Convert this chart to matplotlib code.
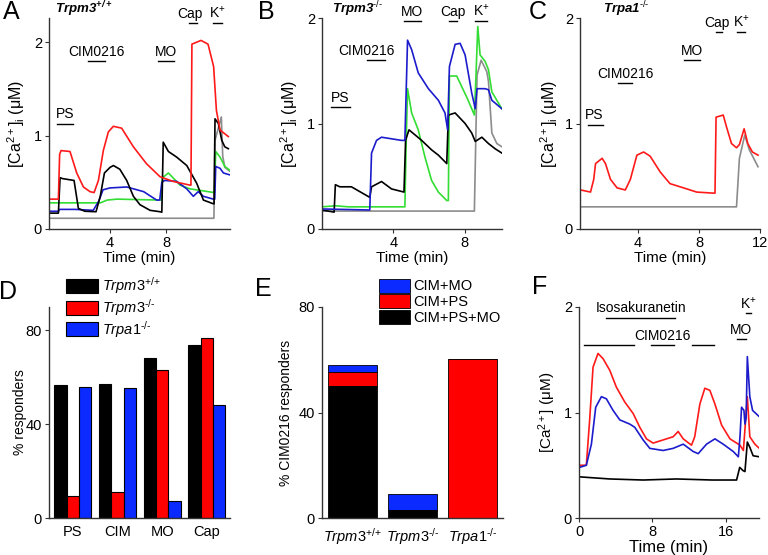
import matplotlib
matplotlib.use('Agg')
import matplotlib.pyplot as plt

plt.rcParams.update({
    'font.family': ['Liberation Sans', 'DejaVu Sans'],
    'font.size': 10,
    'mathtext.fontset': 'custom',
    'mathtext.rm': 'Liberation Sans',
    'mathtext.it': 'Liberation Sans:italic',
    'mathtext.bf': 'Liberation Sans:bold',
    'mathtext.bfit': 'Liberation Sans:bold:italic',
    'axes.linewidth': 1.0,
    'axes.edgecolor': '#333333',
    'xtick.major.size': 3,
    'ytick.major.size': 3,
    'xtick.color': '#333333',
    'ytick.color': '#333333',
    'xtick.labelcolor': 'black',
    'ytick.labelcolor': 'black',
    'xtick.labelsize': 10.5,
    'ytick.labelsize': 10.5,
})

RED = '#ff1a1a'
BLUE = '#1c1ccc'
GREEN = '#33dd33'
GRAY = '#8c8c8c'
BAR_BLUE = '#0a2aff'

# ---- Panel A traces (Trpm3+/+) ----
A_red_t = [-0.36, 0.31, 0.4, 0.5, 1.14, 1.62, 2.1, 2.57, 2.86, 3.17, 3.52, 3.88, 4.24, 4.83, 5.67, 6.6, 7.57, 8.5, 9.7, 9.78, 9.85, 10.5, 11.0, 11.4, 11.6, 11.86, 12.45]
A_red_v = [0.32, 0.32, 0.80, 0.84, 0.83, 0.60, 0.45, 0.40, 0.39, 0.52, 0.84, 1.04, 1.10, 1.08, 0.88, 0.70, 0.56, 0.51, 0.47, 0.47, 1.98, 2.02, 1.98, 1.74, 1.27, 1.06, 0.99]
A_black_t = [-0.36, 0.31, 0.43, 0.6, 1.43, 1.74, 2.2, 3.0, 3.3, 3.6, 4.0, 4.24, 4.7, 5.19, 5.67, 6.14, 6.86, 7.57, 7.7, 7.8, 8.17, 8.76, 9.48, 10.19, 10.67, 11.38, 11.43, 11.5, 11.74, 11.98, 12.2, 12.45]
A_black_v = [0.17, 0.17, 0.55, 0.54, 0.52, 0.22, 0.19, 0.185, 0.35, 0.60, 0.66, 0.68, 0.64, 0.52, 0.35, 0.26, 0.20, 0.185, 0.18, 0.93, 0.83, 0.77, 0.68, 0.49, 0.31, 0.27, 0.27, 1.18, 1.13, 0.95, 0.88, 0.86]
A_green_t = [-0.36, 3.3, 3.8, 4.5, 7.5, 7.65, 7.75, 8.17, 9.0, 9.71, 11.45, 11.55, 11.86, 12.2, 12.55]
A_green_v = [0.28, 0.28, 0.31, 0.32, 0.31, 0.31, 0.55, 0.60, 0.47, 0.43, 0.39, 0.83, 0.77, 0.67, 0.63]
A_blue_t = [-0.36, 0.31, 0.4, 1.5, 2.8, 3.2, 3.5, 4.0, 5.2, 6.4, 7.33, 7.55, 7.7, 7.9, 8.76, 9.48, 9.95, 10.3, 10.67, 11.38, 11.48, 11.55, 11.86, 12.1, 12.55]
A_blue_v = [0.19, 0.19, 0.21, 0.21, 0.20, 0.30, 0.42, 0.44, 0.45, 0.40, 0.31, 0.31, 0.50, 0.52, 0.51, 0.43, 0.35, 0.40, 0.35, 0.32, 0.32, 0.67, 0.65, 0.60, 0.58]
A_gray_t = [-0.36, 11.42, 11.5, 11.95, 12.05, 12.2, 12.55]
A_gray_v = [0.115, 0.115, 0.95, 1.20, 0.78, 0.66, 0.62]

# ---- Panel B traces (Trpm3-/-) ----
B_black_t = [0, 0.68, 0.75, 1.0, 1.65, 2.68, 2.78, 3.34, 3.9, 4.6, 4.69, 4.88, 5.59, 6.15, 6.53, 7.0, 7.09, 7.47, 8.03, 8.4, 8.6, 8.97, 9.34, 9.72, 10.09]
B_black_v = [0.18, 0.16, 0.42, 0.40, 0.40, 0.30, 0.40, 0.45, 0.38, 0.35, 0.84, 0.94, 0.84, 0.75, 0.70, 0.62, 1.08, 1.10, 1.00, 0.91, 0.83, 0.87, 0.81, 0.76, 0.72]
B_blue_t = [0, 2.68, 2.78, 3.06, 3.34, 4.46, 4.65, 4.8, 5.03, 5.4, 5.97, 6.53, 6.9, 7.05, 7.15, 7.47, 7.75, 8.03, 8.4, 8.6, 8.7, 9.15, 9.34, 9.53, 10.09]
B_blue_v = [0.19, 0.18, 0.72, 0.84, 0.87, 0.84, 0.84, 1.79, 1.70, 1.48, 1.33, 1.22, 1.10, 0.94, 1.54, 1.75, 1.76, 1.65, 1.29, 1.14, 1.33, 1.33, 1.32, 1.22, 1.14]
B_green_t = [0, 0.75, 1.5, 4.65, 4.72, 4.8, 5.03, 5.4, 5.78, 6.15, 6.53, 7.0, 7.09, 7.15, 7.56, 7.84, 8.2, 8.55, 8.65, 8.74, 8.87, 9.15, 9.34, 9.53, 10.09]
B_green_v = [0.21, 0.22, 0.21, 0.21, 0.80, 1.33, 1.10, 0.94, 0.68, 0.46, 0.35, 0.27, 0.27, 1.45, 1.45, 1.35, 1.22, 1.08, 1.50, 1.92, 1.65, 1.59, 1.51, 1.30, 1.14]
B_gray_t = [0, 8.55, 8.7, 8.93, 9.25, 9.34, 9.53, 9.81, 10.09]
B_gray_v = [0.17, 0.17, 1.46, 1.60, 1.49, 1.40, 0.91, 0.81, 0.78]

# ---- Panel C traces (Trpa1-/-) ----
C_red_t = [0.24, 0.89, 1.1, 1.22, 1.65, 1.87, 2.2, 2.63, 3.17, 3.5, 3.93, 4.37, 4.8, 5.46, 6.1, 6.98, 7.85, 8.93, 9.05, 9.12, 9.59, 9.8, 10.13, 10.46, 10.65, 10.96, 11.2, 11.5, 11.87]
C_red_v = [0.37, 0.35, 0.47, 0.62, 0.67, 0.62, 0.47, 0.39, 0.37, 0.47, 0.70, 0.73, 0.69, 0.54, 0.43, 0.39, 0.35, 0.34, 0.34, 1.06, 1.08, 0.97, 0.81, 0.77, 0.80, 0.95, 0.81, 0.73, 0.70]
C_gray_t = [0.24, 10.46, 10.65, 11.0, 11.3, 11.87]
C_gray_v = [0.21, 0.21, 0.67, 0.89, 0.75, 0.59]

# ---- Panel D: % responders ----
D_groups = ['PS', 'CIM', 'MO', 'Cap']
D_wt = [56.9, 57.0, 68.3, 73.6]
D_m3ko = [9.4, 11.3, 63.3, 76.7]
D_a1ko = [55.7, 55.3, 7.1, 48.0]

# ---- Panel E: % CIM0216 responders ----
E_genotypes = [r'$\mathit{Trpm3}^{\text{+/+}}$', r'$\mathit{Trpm3}^{\text{-/-}}$', r'$\mathit{Trpa1}^{\text{-/-}}$']
E_cim_ps_mo = [50.0, 3.0, 0.0]
E_cim_ps = [5.5, 0.0, 60.3]
E_cim_mo = [2.5, 6.0, 0.0]

# ---- Panel F traces ----
F_red_t = [0.07, 0.8, 1.16, 1.53, 2.07, 2.62, 3.35, 4.07, 4.98, 5.9, 6.62, 7.35, 8.07, 9.16, 10.25, 10.8, 11.35, 12.25, 12.6, 13.16, 13.7, 14.25, 14.8, 15.53, 16.44, 17.53, 17.9, 18.33, 18.6, 19.15, 19.64]
F_red_v = [0.50, 0.50, 0.93, 1.43, 1.56, 1.51, 1.40, 1.24, 1.10, 0.99, 0.86, 0.75, 0.71, 0.74, 0.77, 0.82, 0.75, 0.69, 0.77, 1.08, 1.23, 1.21, 1.08, 0.88, 0.75, 0.69, 0.64, 1.15, 0.77, 0.70, 0.66]
F_blue_t = [0.07, 0.8, 1.35, 1.82, 2.44, 2.98, 3.71, 4.44, 5.53, 6.07, 6.98, 7.71, 9.16, 10.25, 11.35, 12.44, 12.98, 13.89, 14.8, 15.7, 16.8, 17.35, 17.53, 17.7, 17.96, 18.07, 18.2, 18.33, 18.6, 18.9, 19.64]
F_blue_v = [0.48, 0.50, 0.70, 1.05, 1.15, 1.13, 1.02, 0.93, 0.89, 0.86, 0.74, 0.66, 0.64, 0.66, 0.70, 0.63, 0.61, 0.70, 0.75, 0.70, 0.63, 0.58, 0.77, 1.05, 1.02, 0.89, 0.95, 1.53, 1.15, 1.02, 0.96]
F_black_t = [0.07, 3.35, 6.98, 10.6, 14.5, 17.16, 17.5, 17.85, 18.07, 18.33, 18.6, 18.96, 19.64]
F_black_v = [0.39, 0.37, 0.36, 0.37, 0.36, 0.36, 0.48, 0.45, 0.44, 0.72, 0.67, 0.59, 0.58]

# application bars: (label, start, end, y, label x)
A_apps = [('PS', 0.2, 1.36, 1.13, 0.78), ('CIM0216', 2.45, 3.64, 1.80, 3.05), ('MO', 7.45, 8.57, 1.80, 8.0),
          ('Cap', 9.67, 10.24, 2.21, 9.72), (r'K$^{+}$', 11.38, 11.98, 2.21, 11.7)]
B_apps = [('PS', 0.53, 1.56, 1.16, 1.0), ('CIM0216', 2.53, 3.56, 1.60, 2.5), ('MO', 4.6, 5.53, 1.97, 5.03),
          ('Cap', 7.1, 7.56, 1.97, 7.34), (r'K$^{+}$', 8.6, 9.25, 1.97, 8.93)]
C_apps = [('PS', 0.72, 1.72, 0.99, 1.15), ('CIM0216', 2.67, 3.6, 1.38, 3.17), ('MO', 7.02, 8.07, 1.60, 7.52),
          ('Cap', 9.09, 9.52, 1.87, 9.2), (r'K$^{+}$', 10.46, 11.0, 1.87, 10.78)]
F_apps = [('Isosakuranetin', 2.98, 10.44, 1.90, 6.73), ('', 0.51, 5.96, 1.64, 3.2), ('CIM0216', 7.89, 10.36, 1.64, 9.09),
          ('', 12.25, 14.69, 1.64, 13.5), ('MO', 17.16, 18.15, 1.70, 17.65), (r'K$^{+}$', 18.18, 18.7, 1.94, 18.44)]

fig = plt.figure(figsize=(7.68, 5.55), dpi=100)


def add_ax(x0, y0, x1, y1):
    return fig.add_axes([x0 / 768, 1 - y1 / 555, (x1 - x0) / 768, (y1 - y0) / 555])


def style(ax):
    for s in ['top', 'right']:
        ax.spines[s].set_visible(False)
    ax.tick_params(direction='out', pad=2)


def draw_apps(ax, apps):
    for label, x0, x1, y, tx in apps:
        ax.plot([x0, x1], [y, y], color='black', lw=1.0, clip_on=False)
        if label:
            ax.annotate(label, (tx, y), xytext=(0, 1.5), textcoords='offset points',
                        ha='center', va='bottom', fontsize=10, annotation_clip=False)


ca_label = r'[Ca$^{2+}$]$_\mathrm{i}$ ($\mathrm{\mu}$M)'

# Panel A
axA = add_ax(49, 18, 230, 229)
style(axA)
axA.plot(A_gray_t, A_gray_v, color=GRAY, lw=1.2)
axA.plot(A_green_t, A_green_v, color=GREEN, lw=1.2)
axA.plot(A_blue_t, A_blue_v, color=BLUE, lw=1.2)
axA.plot(A_black_t, A_black_v, color='black', lw=1.2)
axA.plot(A_red_t, A_red_v, color=RED, lw=1.2)
axA.set_xlim(-0.36, 12.57)
axA.set_ylim(0, 2.26)
axA.set_xticks([4, 8])
axA.set_yticks([0, 1, 2])
axA.set_xlabel('Time (min)', labelpad=1, fontsize=11)
axA.set_ylabel(ca_label, fontsize=11.5)
axA.yaxis.set_label_coords(-0.12, 0.5)
draw_apps(axA, A_apps)
axA.text(0.035, 1.04, r'$\mathbfit{Trpm3}^{\mathbfit{+/+}}$', transform=axA.transAxes, ha='left', va='center', fontsize=9.5)

# Panel B
axB = add_ax(322, 18, 502, 229)
style(axB)
axB.plot(B_gray_t, B_gray_v, color=GRAY, lw=1.2)
axB.plot(B_green_t, B_green_v, color=GREEN, lw=1.2)
axB.plot(B_black_t, B_black_v, color='black', lw=1.2)
axB.plot(B_blue_t, B_blue_v, color=BLUE, lw=1.2)
axB.set_xlim(0, 10.1)
axB.set_ylim(0, 2)
axB.set_xticks([4, 8])
axB.set_yticks([0, 1, 2])
axB.set_xlabel('Time (min)', labelpad=1, fontsize=11)
axB.set_ylabel(ca_label, fontsize=11.5)
axB.yaxis.set_label_coords(-0.12, 0.5)
draw_apps(axB, B_apps)
axB.text(0.055, 1.04, r'$\mathbfit{Trpm3}^{\text{-/-}}$', transform=axB.transAxes, ha='left', va='center', fontsize=9.5)

# Panel C
axC = add_ax(580, 18, 760, 229)
style(axC)
axC.plot(C_gray_t, C_gray_v, color=GRAY, lw=1.2)
axC.plot(C_red_t, C_red_v, color=RED, lw=1.2)
axC.set_xlim(0.2, 12)
axC.set_ylim(0, 2)
axC.set_xticks([4, 8, 12])
axC.set_yticks([0, 1, 2])
axC.set_xlabel('Time (min)', labelpad=1, fontsize=11)
axC.set_ylabel(ca_label, fontsize=11.5)
axC.yaxis.set_label_coords(-0.11, 0.5)
draw_apps(axC, C_apps)
axC.text(0.128, 1.04, r'$\mathbfit{Trpa1}^{\text{-/-}}$', transform=axC.transAxes, ha='left', va='center', fontsize=9.5)

# Panel D
axD = add_ax(49, 307, 230, 518)
style(axD)
xd = list(range(len(D_groups)))
w = 0.275
axD.bar([x - w for x in xd], D_wt, width=w, color='black', edgecolor='black', lw=0.8,
        label=r'$\mathit{Trpm3}^{\text{+/+}}$')
axD.bar(xd, D_m3ko, width=w, color='#ff0000', edgecolor='black', lw=0.8, label=r'$\mathit{Trpm3}^{\text{-/-}}$')
axD.bar([x + w for x in xd], D_a1ko, width=w, color=BAR_BLUE, edgecolor='black', lw=0.8,
        label=r'$\mathit{Trpa1}^{\text{-/-}}$')
axD.set_xlim(-0.53, 3.52)
axD.set_ylim(0, 90)
axD.set_yticks([0, 40, 80])
axD.set_xticks(xd)
axD.set_xticklabels(D_groups)
axD.tick_params(axis='x', length=0, pad=5)
axD.set_ylabel('% responders')
axD.yaxis.set_label_coords(-0.12, 0.5)
axD.legend(loc='upper left', bbox_to_anchor=(0.094, 1.15), borderaxespad=0, borderpad=0, frameon=False,
           handlelength=2.2, handleheight=1.1, labelspacing=0.05, handletextpad=0.25, fontsize=10.5)

# Panel E
axE = add_ax(322, 307, 503, 518)
style(axE)
xe = list(range(len(E_genotypes)))
bottom2 = [a + b for a, b in zip(E_cim_ps_mo, E_cim_ps)]
bm = axE.bar(xe, E_cim_mo, bottom=bottom2, width=0.82, color=BAR_BLUE, edgecolor='black', lw=0.6, label='CIM+MO')
bp = axE.bar(xe, E_cim_ps, bottom=E_cim_ps_mo, width=0.82, color='#ff0000', edgecolor='black', lw=0.6, label='CIM+PS')
bb = axE.bar(xe, E_cim_ps_mo, width=0.82, color='black', edgecolor='black', lw=0.6, label='CIM+PS+MO')
axE.set_xlim(-0.51, 2.51)
axE.set_ylim(0, 80)
axE.set_yticks([0, 40, 80])
axE.set_xticks(xe)
axE.set_xticklabels(E_genotypes)
axE.tick_params(axis='x', length=0, pad=6)
axE.set_ylabel('% CIM0216 responders')
axE.yaxis.set_label_coords(-0.16, 0.5)
axE.legend(handles=[bm, bp, bb], loc='upper left', bbox_to_anchor=(0.315, 1.135), borderaxespad=0, borderpad=0,
           frameon=False, handlelength=2.1, handleheight=1.1, labelspacing=0.05, handletextpad=0.25, fontsize=10.5)

# Panel F
axF = add_ax(579, 307, 759, 518)
style(axF)
axF.plot(F_black_t, F_black_v, color='black', lw=1.2)
axF.plot(F_red_t, F_red_v, color=RED, lw=1.2)
axF.plot(F_blue_t, F_blue_v, color=BLUE, lw=1.2)
axF.set_xlim(0, 19.6)
axF.set_ylim(0, 2)
axF.set_xticks([0, 8, 16])
axF.set_yticks([0, 1, 2])
axF.set_xlabel('Time (min)', labelpad=1, fontsize=12)
axF.set_ylabel(r'[Ca$^{2+}$] ($\mathrm{\mu}$M)', fontsize=11)
axF.yaxis.set_label_coords(-0.117, 0.5)
draw_apps(axF, F_apps)

# panel letters
for letter, x, y in [('A', 11, 12), ('B', 266, 12), ('C', 538, 12), ('D', 8, 292), ('E', 263, 289), ('F', 540, 287)]:
    fig.text(x / 768, 1 - y / 555, letter, fontsize=18, ha='center', va='center')

fig.savefig('out.png', dpi=100)
